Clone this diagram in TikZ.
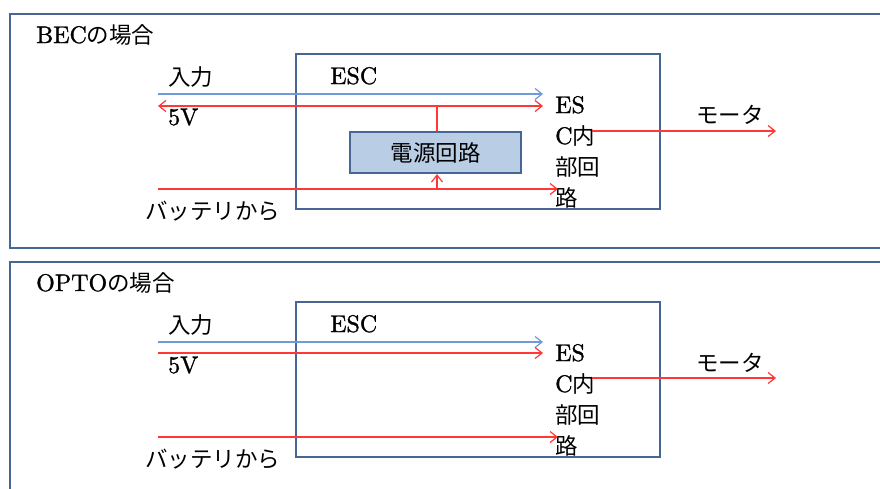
\documentclass[tikz,border=0pt]{standalone}
\usepackage{fontspec}
\setmainfont{lmroman10-regular}[Extension=.otf,FakeBold=1.2]
\newfontfamily\jpfont{Noto Sans CJK JP}
\newcommand{\jp}[1]{{\fontsize{22.5}{31}\selectfont\jpfont #1}}
\usetikzlibrary{arrows.meta}
\definecolor{frame}{RGB}{70,102,150}
\definecolor{boxfill}{RGB}{185,205,229}
\definecolor{sigblue}{RGB}{110,155,215}
\definecolor{pwrred}{RGB}{255,55,55}
\tikzset{
  lbl/.style={anchor=base west, inner sep=0pt, font=\fontsize{24}{31}\selectfont},
  outerframe/.style={draw=frame, line width=2.8pt},
  escbox/.style={draw=frame, line width=2.6pt, minimum width=364pt, minimum height=155pt, inner sep=0pt},
  psubox/.style={draw=frame, fill=boxfill, line width=2.2pt, minimum width=171pt, minimum height=41pt, inner sep=0pt},
  bluewire/.style={draw=sigblue, line width=1.2pt},
  redwire/.style={draw=pwrred, line width=1.2pt},
  tip/.style={-{Straight Barb[length=7pt,width=11pt]}},
  bothtip/.style={{Straight Barb[length=7pt,width=11pt]}-{Straight Barb[length=7pt,width=11pt]}}
}
\begin{document}
\begin{tikzpicture}[x=1pt,y=-1pt]
\clip (0,0) rectangle (880,488);
\fill[white] (0,0) rectangle (880,488);

% ---------- BEC ----------
\draw[outerframe] (10,14) rectangle (900,248);
\node[lbl] (t1) at (36,43) {BEC\jp{の場合}};
\node[escbox] (esc1) at (478,131.5) {};
\node[lbl] (esclbl1) at (330,84) {ESC};
\node[lbl] (in1) at (168,85) {\jp{入力}};
\node[lbl] (v1) at (168,125) {5V};
\node[lbl] (bat1) at (145,219) {\jp{バッテリから}};
\node[psubox] (psu) at (435.5,152.5) {\jp{電源回路}};
\node[lbl] (e1a) at (555,113) {ES};
\node[lbl] (e1b) at (555,144) {C\jp{内}};
\node[lbl] (e1c) at (555,175) {\jp{部回}};
\node[lbl] (e1d) at (555,206) {\jp{路}};
\node[lbl] (mot1) at (696,123) {\jp{モータ}};

\coordinate (s1a) at (158,94);  \coordinate (s1b) at (543,94);
\coordinate (p1a) at (158,106); \coordinate (p1b) at (543,106);
\coordinate (b1a) at (158,189); \coordinate (b1b) at (558,189);
\coordinate (m1a) at (592,131); \coordinate (m1b) at (776,131);
\coordinate (j1) at (437,106);  \coordinate (k1) at (437,189);

\draw[bluewire,tip] (s1a) -- (s1b);
\draw[redwire,bothtip] (p1a) -- (p1b);
\draw[redwire] (j1) -- (j1 |- psu.north);
\draw[redwire,tip] (b1a) -- (b1b);
\draw[redwire,tip] (k1) -- (k1 |- psu.south);
\draw[redwire,tip] (m1a) -- (m1b);

% ---------- OPTO ----------
\begin{scope}[shift={(0,248)}]
\draw[outerframe] (10,14) rectangle (900,260);
\node[lbl] (t2) at (36,43) {OPTO\jp{の場合}};
\node[escbox] (esc2) at (478,131.5) {};
\node[lbl] (esclbl2) at (330,84) {ESC};
\node[lbl] (in2) at (168,85) {\jp{入力}};
\node[lbl] (v2) at (168,125) {5V};
\node[lbl] (bat2) at (145,219) {\jp{バッテリから}};
\node[lbl] (e2a) at (555,113) {ES};
\node[lbl] (e2b) at (555,144) {C\jp{内}};
\node[lbl] (e2c) at (555,175) {\jp{部回}};
\node[lbl] (e2d) at (555,206) {\jp{路}};
\node[lbl] (mot2) at (696,123) {\jp{モータ}};

\coordinate (s2a) at (158,94);  \coordinate (s2b) at (543,94);
\coordinate (p2a) at (158,105); \coordinate (p2b) at (543,105);
\coordinate (b2a) at (158,189); \coordinate (b2b) at (558,189);
\coordinate (m2a) at (592,130); \coordinate (m2b) at (776,130);

\draw[bluewire,tip] (s2a) -- (s2b);
\draw[redwire,tip] (p2a) -- (p2b);
\draw[redwire,tip] (b2a) -- (b2b);
\draw[redwire,tip] (m2a) -- (m2b);
\end{scope}
\end{tikzpicture}
\end{document}
